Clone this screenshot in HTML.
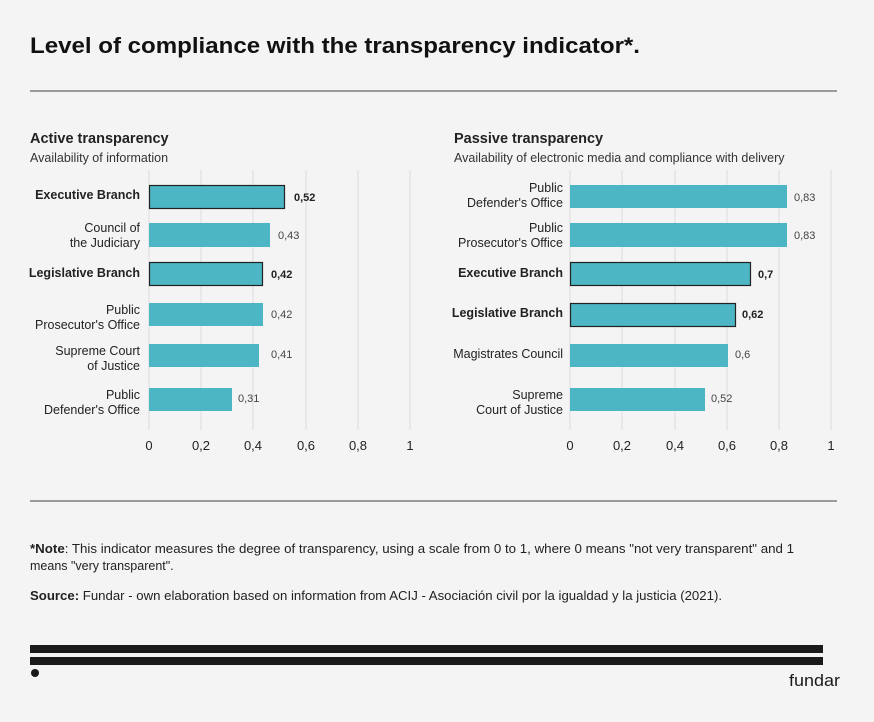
<!DOCTYPE html>
<html><head><meta charset="utf-8"><style>
html,body{margin:0;padding:0;background:#f4f4f4;}
svg{display:block;font-family:"Liberation Sans",sans-serif;}
</style></head><body>
<svg width="874" height="722" viewBox="0 0 874 722" xmlns="http://www.w3.org/2000/svg">
<rect width="874" height="722" fill="#f4f4f4"/>
<text x="30" y="53" font-size="22" font-weight="bold" fill="#111" textLength="610" lengthAdjust="spacingAndGlyphs">Level of compliance with the transparency indicator*.</text>
<line x1="30" y1="91" x2="837" y2="91" stroke="#666" stroke-width="1.3"/>

<text x="30" y="143" font-size="14.5" font-weight="bold" fill="#222">Active transparency</text>
<text x="30" y="162" font-size="12.5" fill="#333">Availability of information</text>
<text x="454" y="143" font-size="14.5" font-weight="bold" fill="#222">Passive transparency</text>
<text x="454" y="162" font-size="12.5" fill="#333">Availability of electronic media and compliance with delivery</text>

<g stroke="#ddd" stroke-width="1">
<line x1="149" y1="170" x2="149" y2="430"/><line x1="201" y1="170" x2="201" y2="430"/><line x1="253" y1="170" x2="253" y2="430"/><line x1="306" y1="170" x2="306" y2="430"/><line x1="358" y1="170" x2="358" y2="430"/><line x1="410" y1="170" x2="410" y2="430"/>
<line x1="570" y1="170" x2="570" y2="430"/><line x1="622" y1="170" x2="622" y2="430"/><line x1="675" y1="170" x2="675" y2="430"/><line x1="727" y1="170" x2="727" y2="430"/><line x1="779" y1="170" x2="779" y2="430"/><line x1="831" y1="170" x2="831" y2="430"/>
</g>
<g font-size="13" fill="#222" text-anchor="middle">
<text x="149" y="450">0</text><text x="201" y="450">0,2</text><text x="253" y="450">0,4</text><text x="306" y="450">0,6</text><text x="358" y="450">0,8</text><text x="410" y="450">1</text>
<text x="570" y="450">0</text><text x="622" y="450">0,2</text><text x="675" y="450">0,4</text><text x="727" y="450">0,6</text><text x="779" y="450">0,8</text><text x="831" y="450">1</text>
</g>

<g fill="#4db6c4">
<rect x="149.5" y="185.5" width="135" height="23" stroke="#222" stroke-width="1.2"/>
<rect x="149" y="223" width="121" height="24"/>
<rect x="149.5" y="262.5" width="113" height="23" stroke="#222" stroke-width="1.2"/>
<rect x="149" y="303" width="114" height="23"/>
<rect x="149" y="344" width="110" height="23"/>
<rect x="149" y="388" width="83" height="23"/>
<rect x="570" y="185" width="217" height="23"/>
<rect x="570" y="223" width="217" height="24"/>
<rect x="570.5" y="262.5" width="180" height="23" stroke="#222" stroke-width="1.2"/>
<rect x="570.5" y="303.5" width="165" height="23" stroke="#222" stroke-width="1.2"/>
<rect x="570" y="344" width="158" height="23"/>
<rect x="570" y="388" width="135" height="23"/>
</g>
<g font-size="11" fill="#444">
<text x="294" y="201" font-weight="bold" fill="#222">0,52</text>
<text x="278" y="239">0,43</text>
<text x="271" y="278" font-weight="bold" fill="#222">0,42</text>
<text x="271" y="318">0,42</text>
<text x="271" y="358">0,41</text>
<text x="238" y="402">0,31</text>
<text x="794" y="201">0,83</text>
<text x="794" y="239">0,83</text>
<text x="758" y="278" font-weight="bold" fill="#222">0,7</text>
<text x="742" y="318" font-weight="bold" fill="#222">0,62</text>
<text x="735" y="358">0,6</text>
<text x="711" y="402">0,52</text>
</g>
<g font-size="12.5" fill="#222" text-anchor="end">
<text x="140" y="199" font-weight="bold">Executive Branch</text>
<text x="140" y="232">Council of</text><text x="140" y="247">the Judiciary</text>
<text x="140" y="277" font-weight="bold">Legislative Branch</text>
<text x="140" y="314">Public</text><text x="140" y="329">Prosecutor's Office</text>
<text x="140" y="355">Supreme Court</text><text x="140" y="370">of Justice</text>
<text x="140" y="399">Public</text><text x="140" y="414">Defender's Office</text>
<text x="563" y="192">Public</text><text x="563" y="207">Defender's Office</text>
<text x="563" y="232">Public</text><text x="563" y="247">Prosecutor's Office</text>
<text x="563" y="277" font-weight="bold">Executive Branch</text>
<text x="563" y="317" font-weight="bold">Legislative Branch</text>
<text x="563" y="358">Magistrates Council</text>
<text x="563" y="399">Supreme</text><text x="563" y="414">Court of Justice</text>
</g>

<line x1="30" y1="501" x2="837" y2="501" stroke="#666" stroke-width="1.3"/>
<g font-size="12.5" fill="#222">
<text x="30" y="553" textLength="764" lengthAdjust="spacingAndGlyphs"><tspan font-weight="bold">*Note</tspan>: This indicator measures the degree of transparency, using a scale from 0 to 1, where 0 means "not very transparent" and 1</text>
<text x="30" y="570">means "very transparent".</text>
<text x="30" y="600" textLength="692" lengthAdjust="spacingAndGlyphs"><tspan font-weight="bold">Source:</tspan> Fundar - own elaboration based on information from ACIJ - Asociación civil por la igualdad y la justicia (2021).</text>
</g>
<rect x="30" y="645" width="793" height="8" fill="#1a1a1a"/>
<rect x="30" y="657" width="793" height="8" fill="#1a1a1a"/>
<circle cx="35" cy="673" r="4" fill="#1a1a1a"/>
<text x="789" y="686" font-size="17" fill="#1a1a1a" textLength="51" lengthAdjust="spacingAndGlyphs">fundar</text>
</svg>
</body></html>
